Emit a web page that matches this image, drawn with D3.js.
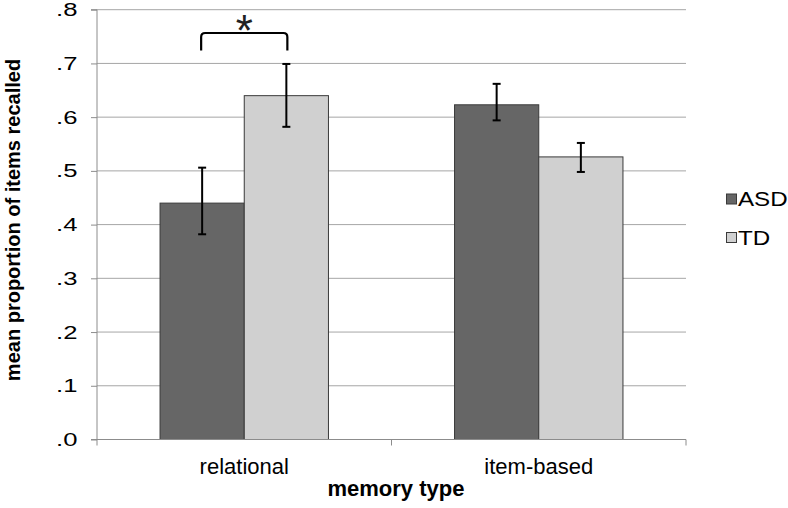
<!DOCTYPE html>
<html>
<head>
<meta charset="utf-8">
<script src="https://d3js.org/d3.v7.min.js"></script>
<style>
  body { margin: 0; background: #fff; }
  svg { display: block; font-family: "Liberation Sans", Arial, sans-serif; }
</style>
</head>
<body>
<svg id="chart" width="788" height="508"></svg>
<script>
const categories = ["relational", "item-based"];
const seriesNames = ["ASD", "TD"];
const asdMeans = [0.440, 0.623];
const asdLow = [0.382, 0.594];
const asdHigh = [0.506, 0.662];
const tdMeans = [0.640, 0.526];
const tdLow = [0.582, 0.498];
const tdHigh = [0.699, 0.552];
const yTicks = [0, 0.1, 0.2, 0.3, 0.4, 0.5, 0.6, 0.7, 0.8];
const yTickLabels = [".0", ".1", ".2", ".3", ".4", ".5", ".6", ".7", ".8"];
const colors = ["#666666", "#d0d0d0"];

const series = [
  { name: seriesNames[0], means: asdMeans, low: asdLow, high: asdHigh, color: colors[0] },
  { name: seriesNames[1], means: tdMeans, low: tdLow, high: tdHigh, color: colors[1] }
];

const svg = d3.select("#chart");
const pLeft = 97, pRight = 686, pTop = 9.7, pBottom = 439.5;

const x = d3.scaleBand().domain(categories).range([pLeft, pRight]).paddingInner(0).paddingOuter(0);
const xs = d3.scaleBand().domain(seriesNames).range([0, x.bandwidth()]).paddingInner(0).paddingOuter(0.7486);
const y = d3.scaleLinear().domain([0, 0.8]).range([pBottom, pTop]);

// gridlines
svg.append("g").selectAll("line").data(yTicks.slice(1)).join("line")
  .attr("x1", pLeft).attr("x2", pRight)
  .attr("y1", d => y(d)).attr("y2", d => y(d))
  .attr("stroke", "#a6a6a6").attr("stroke-width", 1);

// y axis
const tickSX = 1.35;
const yAxis = d3.axisLeft(y).tickValues(yTicks).tickFormat((d, i) => yTickLabels[i]).tickSize(6).tickPadding(12);
const gy = svg.append("g").attr("transform", `translate(${pLeft},0)`).call(yAxis);
gy.select(".domain").attr("stroke", "#8c8c8c").attr("d", `M-6,${pTop}H0V${pBottom}H-6`);
gy.selectAll(".tick line").attr("stroke", "#8c8c8c");
gy.selectAll(".tick text")
  .attr("font-size", 19).attr("fill", "#000").attr("font-family", "Liberation Sans, Arial, sans-serif")
  .attr("x", -19.5 / tickSX).attr("transform", `scale(${tickSX},1)`);

// bars
const groups = svg.append("g").selectAll("g").data(series).join("g");
groups.selectAll("rect").data(s => s.means.map((v, i) => ({ s, v, i }))).join("rect")
  .attr("x", d => x(categories[d.i]) + xs(d.s.name))
  .attr("width", xs.bandwidth())
  .attr("y", d => y(d.v))
  .attr("height", d => y(0) - y(d.v))
  .attr("fill", d => d.s.color)
  .attr("stroke", "#3a3a3a").attr("stroke-width", 1);

// x axis
const xAxisLine = svg.append("g");
xAxisLine.append("line").attr("x1", pLeft).attr("x2", pRight).attr("y1", pBottom).attr("y2", pBottom)
  .attr("stroke", "#8c8c8c");
const boundaries = [pLeft, x(categories[1]), pRight];
xAxisLine.selectAll(".xt").data(boundaries).join("line").attr("class", "xt")
  .attr("x1", d => d).attr("x2", d => d).attr("y1", pBottom).attr("y2", pBottom + 6)
  .attr("stroke", "#8c8c8c");
svg.append("g").selectAll("text").data(categories).join("text")
  .attr("x", d => x(d) + x.bandwidth() / 2).attr("y", 474)
  .attr("text-anchor", "middle").attr("font-size", 22).attr("fill", "#000")
  .text(d => d);

// error bars
const eb = svg.append("g");
series.forEach(s => {
  s.means.forEach((v, i) => {
    const cx = x(categories[i]) + xs(s.name) + xs.bandwidth() / 2;
    const g = eb.append("g").attr("stroke", "#000").attr("stroke-width", 2);
    g.append("line").attr("x1", cx).attr("x2", cx).attr("y1", y(s.high[i])).attr("y2", y(s.low[i]));
    g.append("line").attr("x1", cx - 4).attr("x2", cx + 4).attr("y1", y(s.high[i])).attr("y2", y(s.high[i]));
    g.append("line").attr("x1", cx - 4).attr("x2", cx + 4).attr("y1", y(s.low[i])).attr("y2", y(s.low[i]));
  });
});

// significance bracket
const bx1 = x(categories[0]) + xs(seriesNames[0]) + xs.bandwidth() / 2 - 1;
const bx2 = x(categories[0]) + xs(seriesNames[1]) + xs.bandwidth() / 2 + 1;
const by = 33, byEnd = 50.5;
svg.append("path")
  .attr("d", `M${bx1},${byEnd} L${bx1},${by + 4} Q${bx1},${by} ${bx1 + 4},${by} L${bx2 - 4},${by} Q${bx2},${by} ${bx2},${by + 4} L${bx2},${byEnd}`)
  .attr("fill", "none").attr("stroke", "#000").attr("stroke-width", 2.2);
svg.append("text").attr("x", (bx1 + bx2) / 2).attr("y", 46)
  .attr("text-anchor", "middle").attr("font-size", 44).attr("fill", "#222").text("*");

// legend
const legSX = 1.15;
const lg = svg.append("g");
series.forEach((s, i) => {
  const ly = 194 + i * 38.5;
  lg.append("rect").attr("x", 726.5).attr("y", ly).attr("width", 10).attr("height", 10)
    .attr("fill", s.color).attr("stroke", "#3a3a3a").attr("stroke-width", 1);
  lg.append("text").attr("x", 738 / legSX).attr("y", ly + 12.5).attr("font-size", 21)
    .attr("transform", `scale(${legSX},1)`).attr("fill", "#000").text(s.name);
});

// axis titles
svg.append("text").attr("x", 396).attr("y", 496)
  .attr("text-anchor", "middle").attr("font-size", 22).attr("font-weight", "bold").attr("fill", "#000")
  .text("memory type");
svg.append("text").attr("transform", `translate(20,220) rotate(-90)`)
  .attr("text-anchor", "middle").attr("font-size", 20).attr("font-weight", "bold").attr("fill", "#000")
  .text("mean proportion of items recalled");
</script>
</body>
</html>
